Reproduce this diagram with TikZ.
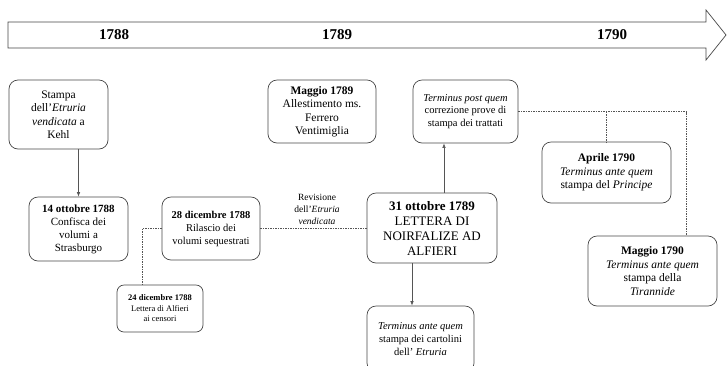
\documentclass[tikz,border=0pt]{standalone}
\usepackage{fontspec}
\setmainfont{Liberation Serif}
\usetikzlibrary{arrows.meta, positioning, calc}
\definecolor{linegray}{RGB}{85, 85, 85}
\definecolor{boxgray}{RGB}{70, 70, 70}

\begin{document}
\begin{tikzpicture}[
    x=1pt, y=-1pt,
    block/.style={rectangle, draw=boxgray, line width=0.7pt, rounded corners=9pt, align=center, inner sep=2pt, font=\fontsize{11.5}{13.5}\selectfont},
    smallblock/.style={block, rounded corners=7pt, font=\fontsize{8.5}{10.5}\selectfont},
    bigblock/.style={block, font=\fontsize{13}{15}\selectfont},
    note/.style={align=center, inner sep=1pt, font=\fontsize{9.5}{12}\selectfont},
    year/.style={font=\fontsize{15}{18}\selectfont\bfseries},
    arrow/.style={line width=0.6pt, linegray, -{Latex[length=4.5pt, width=3.5pt]}},
    dotline/.style={line width=0.7pt, linegray, dash pattern=on 1.5pt off 1pt}
]
\useasboundingbox (0,0) rectangle (727,365);

\draw[boxgray, line width=0.7pt, fill=white] (8,22) -- (706,22) -- (706,10) -- (726,35) -- (706,60) -- (706,48) -- (8,48) -- cycle;

\node (y1788) [year] at (114,35) {1788};
\node (y1789) [year] at (337,35) {1789};
\node (y1790) [year] at (612,35) {1790};

\node (stampa) [block, minimum width=99pt, minimum height=69pt] at (58.5,114.5) {Stampa\\ dell'\textit{Etruria}\\ \textit{vendicata} a\\ Kehl};

\node (maggio89) [block, minimum width=108pt, minimum height=63pt] at (322,111.5) {\textbf{Maggio 1789}\\ Allestimento ms.\\ Ferrero\\ Ventimiglia};

\node (postquem) [block, minimum width=105pt, minimum height=63pt, font=\fontsize{10.5}{12.5}\selectfont] at (465.5,111.5) {\textit{Terminus post quem}\\ correzione prove di\\ stampa dei trattati};

\node (ottobre14) [block, minimum width=99pt, minimum height=64pt, font=\fontsize{11}{13}\selectfont] at (78.5,229) {\textbf{14 ottobre 1788}\\ Confisca dei\\ volumi a\\ Strasburgo};

\node (dic28) [block, minimum width=98pt, minimum height=63pt, font=\fontsize{10.5}{13}\selectfont] at (211,228.5) {\textbf{28 dicembre 1788}\\ Rilascio dei\\ volumi sequestrati};

\node (dic24) [smallblock, minimum width=86pt, minimum height=47pt] at (160,308.5) {\textbf{24 dicembre 1788}\\ Lettera di Alfieri\\ ai censori};

\node (revisione) [note] at (317,209) {Revisione\\ dell'\textit{Etruria}\\ \textit{vendicata}};

\node (ott31) [bigblock, minimum width=130pt, minimum height=70pt] at (432,228) {\textbf{31 ottobre 1789}\\ LETTERA DI\\ NOIRFALIZE AD\\ ALFIERI};

\node (cartolini) [block, minimum width=107pt, minimum height=66pt, font=\fontsize{10.5}{13}\selectfont] at (420.5,339) {\textit{Terminus ante quem}\\ stampa dei cartolini\\ dell' \textit{Etruria}};

\node (aprile) [block, minimum width=129pt, minimum height=61pt] at (606.5,172.5) {\textbf{Aprile 1790}\\ \textit{Terminus ante quem}\\ stampa del \textit{Principe}};

\node (maggio90) [block, minimum width=129pt, minimum height=70pt] at (652.5,271) {\textbf{Maggio 1790}\\ \textit{Terminus ante quem}\\ stampa della\\ \textit{Tirannide}};

\draw[arrow] (stampa.south -| ottobre14.north) -- (ottobre14.north);
\draw[dotline] (dic28.west) -| ([xshift=-18pt]dic24.north);
\draw[dotline] (dic28.east) -- (dic28.east -| ott31.west);
\draw[arrow] ([xshift=12pt]ott31.north) -- ([xshift=12pt]ott31.north |- postquem.south);
\draw[arrow] ([xshift=-20pt]ott31.south) -- ([xshift=-20pt]ott31.south |- cartolini.north);
\draw[dotline] (postquem.east) -| ([xshift=34pt]maggio90.north);
\draw[dotline] (postquem.east -| aprile.north) -- (aprile.north);

\end{tikzpicture}
\end{document}
